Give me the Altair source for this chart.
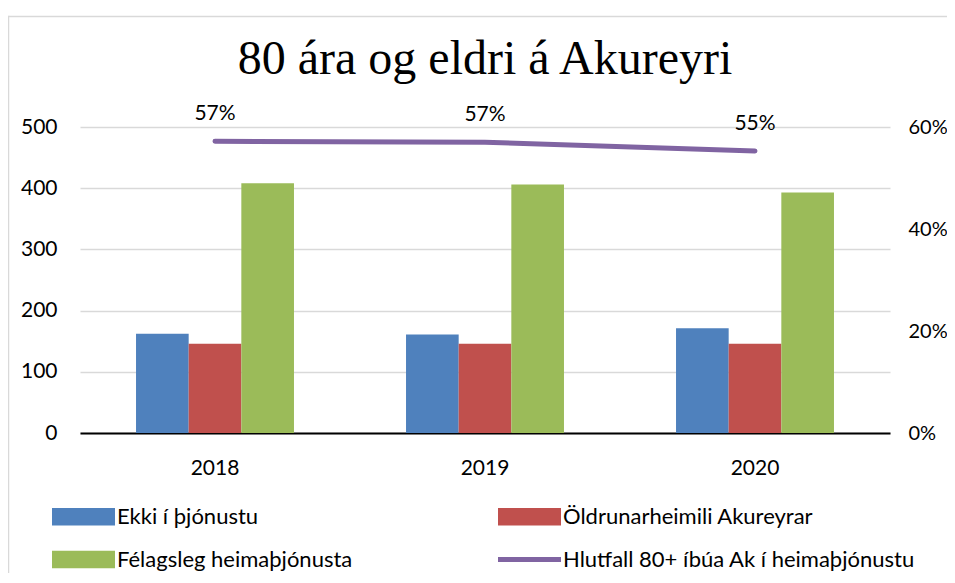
import altair as alt
import pandas as pd

years = ["2018", "2019", "2020"]
series_names = ["Ekki í þjónustu", "Öldrunarheimili Akureyrar", "Félagsleg heimaþjónusta"]
line_name = "Hlutfall 80+ íbúa Ak í heimaþjónustu"
ekki = [162, 161, 171]
oldrun = [146, 146, 146]
felags = [408, 406, 393]
hlutfall = [0.572, 0.570, 0.553]
left_ticks = [0, 100, 200, 300, 400, 500]
right_ticks = [0, 0.2, 0.4, 0.6]
colors = ["#4F81BD", "#C0504D", "#9BBB59", "#8064A2"]

rows = []
for name, vals in zip(series_names, [ekki, oldrun, felags]):
    for y, v in zip(years, vals):
        rows.append({"year": y, "series": name, "value": v})
bar_df = pd.DataFrame(rows)
line_df = pd.DataFrame({"year": years, "pct": hlutfall, "series": [line_name] * 3})

FONT = "Lato"
domain_all = series_names + [line_name]
color_scale = alt.Scale(domain=domain_all, range=colors)

shape_expr = (
    "datum.value === '" + line_name + "' ? 'M-1,-0.08H1V0.08H-1Z' : 'M-1,-0.28H1V0.28H-1Z'"
)

legend = alt.Legend(
    title=None,
    orient="none",
    direction="horizontal",
    legendX=-28,
    legendY=358,
    columns=2,
    columnPadding=145,
    rowPadding=-17,
    labelFont=FONT,
    labelFontSize=22,
    labelColor="black",
    labelOffset=2,
    labelLimit=500,
    symbolSize=3969,
    symbolType=alt.ExprRef(expr=shape_expr),
    symbolFillColor=alt.ExprRef(expr="scale('color', datum.value)"),
    symbolStrokeWidth=0,
    symbolOpacity=1,
)

x_scale = alt.Scale(paddingInner=0.415, paddingOuter=0.2075)
x_axis = alt.Axis(
    title=None, labelAngle=0, labelFont=FONT, labelFontSize=21, labelColor="black",
    labelPadding=24, ticks=False, domainColor="black", domainWidth=2, grid=False)
x_enc = alt.X("year:N", scale=x_scale, axis=x_axis)

bars = alt.Chart(bar_df).mark_bar().encode(
    x=x_enc,
    xOffset=alt.XOffset("series:N", sort=series_names, scale=alt.Scale(paddingInner=0, paddingOuter=0)),
    y=alt.Y("value:Q", scale=alt.Scale(domain=[0, 500], nice=False), axis=alt.Axis(
        title=None, values=left_ticks, orient="left", grid=True, gridColor="#D9D9D9", gridWidth=1.5,
        domain=False, ticks=False, labelPadding=23, labelFont=FONT, labelFontSize=21, labelColor="black")),
    color=alt.Color("series:N", sort=domain_all, scale=color_scale, legend=legend),
)

y_right = alt.Y("pct:Q", scale=alt.Scale(domain=[0, 0.6], nice=False), axis=alt.Axis(
    title=None, values=right_ticks, format=".0%", orient="right", grid=False, domain=False,
    ticks=False, labelPadding=18, labelFont=FONT, labelFontSize=20, labelColor="black"))

line = alt.Chart(line_df).mark_line(strokeWidth=5, strokeCap="round").encode(
    x=x_enc,
    y=y_right,
    color=alt.Color("series:N", sort=domain_all, scale=color_scale, legend=legend),
)
labels = alt.Chart(line_df).mark_text(font=FONT, fontSize=21, color="black", dy=-27).encode(
    x=x_enc,
    y=y_right,
    text=alt.Text("pct:Q", format=".0%"),
)

one = pd.DataFrame({"a": [0]})
frame_top = alt.Chart(one).mark_rule(stroke="#D9D9D9", strokeWidth=1.5, clip=False).encode(
    x=alt.value(-71.5), x2=alt.value(900), y=alt.value(-110.5)
)
frame_left = alt.Chart(one).mark_rule(stroke="#D9D9D9", strokeWidth=1.5, clip=False).encode(
    x=alt.value(-71.5), y=alt.value(-111.2), y2=alt.value(600)
)

chart = alt.layer(
    frame_top, frame_left, bars, alt.layer(line, labels)
).resolve_scale(y="independent").properties(
    width=810,
    height=306,
    autosize=alt.AutoSizeParams(type="none"),
    padding={"left": 72, "top": 119, "right": 57, "bottom": 140},
    title=alt.TitleParams(
        "80 ára og eldri á Akureyri", font="Liberation Serif", fontSize=48,
        fontWeight="normal", color="black", anchor="middle", offset=-69),
).configure_view(strokeWidth=0)

chart.save("out.html", embed_options={"renderer": "svg", "actions": False})
